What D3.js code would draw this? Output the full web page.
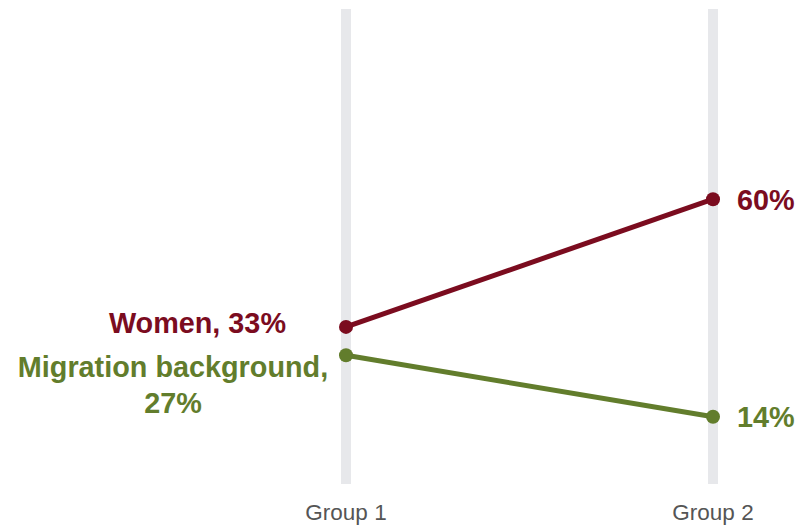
<!DOCTYPE html>
<html>
<head>
<meta charset="utf-8">
<script src="https://cdn.jsdelivr.net/npm/d3@7"></script>
<style>
  html, body { margin: 0; padding: 0; background: #fff; }
  svg { display: block; overflow: hidden; }
  text { font-family: "Liberation Sans", Arial, sans-serif; }
</style>
</head>
<body>
<script>
const groups = ["Group 1", "Group 2"];
const seriesNames = ["Women", "Migration background"];
const women = [33, 60];
const migration = [27, 14];
const seriesColors = ["#7b0c1f", "#627d2c"];

const W = 798, H = 529;
const svg = d3.select("body").append("svg").attr("width", W).attr("height", H);

const x = d3.scalePoint().domain(groups).range([346, 713]);
const y = d3.scaleLinear().domain([0, 100]).range([483, 10]);

// vertical grey bars
svg.selectAll("rect.bar").data(groups).enter().append("rect")
  .attr("x", d => x(d) - 5).attr("width", 10)
  .attr("y", y(100) - 1).attr("height", y(0) - y(100) + 2)
  .attr("fill", "#e7e8eb");

// group labels
svg.selectAll("text.grp").data(groups).enter().append("text")
  .attr("x", d => x(d)).attr("y", 520)
  .attr("text-anchor", "middle")
  .attr("font-size", 22.5).attr("fill", "#555555")
  .text(d => d);

const series = [
  { name: seriesNames[0], values: women, color: seriesColors[0] },
  { name: seriesNames[1], values: migration, color: seriesColors[1] }
];

const line = d3.line().x((d, i) => x(groups[i])).y(d => y(d));

series.forEach(s => {
  svg.append("path").datum(s.values)
    .attr("d", line).attr("fill", "none")
    .attr("stroke", s.color).attr("stroke-width", 5);
  svg.selectAll(null).data(s.values).enter().append("circle")
    .attr("cx", (d, i) => x(groups[i])).attr("cy", d => y(d))
    .attr("r", 7).attr("fill", s.color);
  // right labels
  svg.append("text")
    .attr("x", x(groups[1]) + 24).attr("y", y(s.values[1]))
    .attr("dy", "0.36em")
    .attr("font-size", 28.8).attr("font-weight", "bold").attr("fill", s.color)
    .text(s.values[1] + "%");
});

// left labels
svg.append("text")
  .attr("x", 286).attr("y", y(women[0]) + 6)
  .attr("text-anchor", "end")
  .attr("font-size", 28.8).attr("font-weight", "bold").attr("fill", seriesColors[0])
  .text(seriesNames[0] + ", " + women[0] + "%");

const mig = svg.append("text")
  .attr("text-anchor", "middle")
  .attr("font-size", 28.8).attr("font-weight", "bold").attr("fill", seriesColors[1]);
mig.append("tspan").attr("x", 173).attr("y", y(migration[0]) + 22).text(seriesNames[1] + ",");
mig.append("tspan").attr("x", 173).attr("y", y(migration[0]) + 58).text(migration[0] + "%");
</script>
</body>
</html>
